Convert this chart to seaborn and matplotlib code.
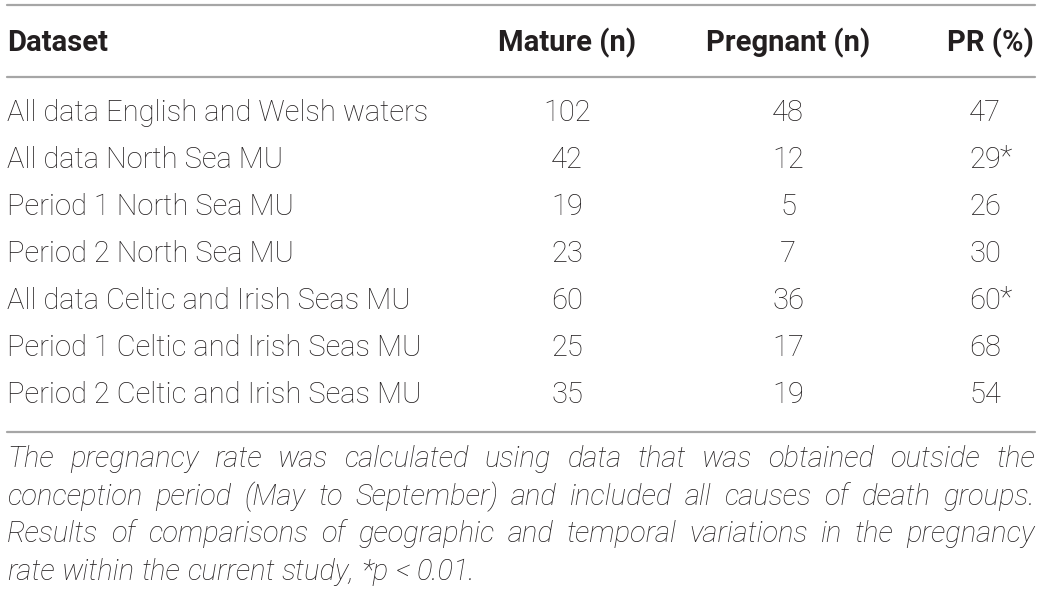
import pandas as pd
import matplotlib.pyplot as plt
import seaborn as sns

datasets = [
    "All data English and Welsh waters",
    "All data North Sea MU",
    "Period 1 North Sea MU",
    "Period 2 North Sea MU",
    "All data Celtic and Irish Seas MU",
    "Period 1 Celtic and Irish Seas MU",
    "Period 2 Celtic and Irish Seas MU",
]
mature = [102, 42, 19, 23, 60, 25, 35]
pregnant = [48, 12, 5, 7, 36, 17, 19]
pr = [47, 29, 26, 30, 60, 68, 54]
signif = ["", "*", "", "", "*", "", ""]
headers = ["Dataset", "Mature (n)", "Pregnant (n)", "PR (%)"]
footnote_lines = [
    "The pregnancy rate was calculated using data that was obtained outside the",
    "conception period (May to September) and included all causes of death groups.",
    "Results of comparisons of geographic and temporal variations in the pregnancy",
    "rate within the current study, *p < 0.01.",
]

df = pd.DataFrame({"dataset": datasets, "mature": mature,
                   "pregnant": pregnant, "pr": pr, "sig": signif})

sns.set_theme(style="white")
plt.rcParams['font.family'] = ['Roboto', 'DejaVu Sans']

fig = plt.figure(figsize=(10.41, 5.92), dpi=100)
ax = fig.add_axes([0, 0, 1, 1])
ax.set_xlim(0, 1041)
ax.set_ylim(592, 0)
ax.axis("off")

rule = dict(color="#a6a6a6", linewidth=1.6)
for y in (5, 77, 432):
    ax.plot([7, 1035], [y, y], **rule)

txt = "#231f20"
fs = 21
col_x = [7, 567, 788, 985]
ax.text(col_x[0], 43, headers[0], ha="left", va="center", fontsize=fs,
        fontweight="bold", color=txt)
for x, h in zip(col_x[1:], headers[1:]):
    ax.text(x + (5 if h == "PR (%)" else 0), 43, h, ha="center", va="center",
            fontsize=fs, fontweight="bold", color=txt)

row_y0, row_dy = 113, 47
for i, r in df.iterrows():
    y = row_y0 + i * row_dy
    ax.text(col_x[0], y, r["dataset"], ha="left", va="center", fontsize=fs,
            fontweight="light", color=txt)
    ax.text(col_x[1], y, str(r["mature"]), ha="center", va="center",
            fontsize=fs, fontweight="light", color=txt)
    ax.text(col_x[2], y, str(r["pregnant"]), ha="center", va="center",
            fontsize=fs, fontweight="light", color=txt)
    ax.text(col_x[3], y, str(r["pr"]), ha="center", va="center",
            fontsize=fs, fontweight="light", color=txt)
    if r["sig"]:
        ax.text(col_x[3] + 15, y - 3, r["sig"], ha="left", va="center",
                fontsize=fs, fontweight="light", color=txt)

# justified footnote: spread words over the table width
fig.canvas.draw()
renderer = fig.canvas.get_renderer()
inv = ax.transData.inverted()
fn_style = dict(fontsize=fs, style="italic", fontweight="light", color=txt,
                va="center", ha="left")
left, right = 7, 1035
for k, line in enumerate(footnote_lines):
    y = 459 + k * 37.7
    words = line.split(" ")
    items = [ax.text(0, y, w, **fn_style) for w in words]
    widths = []
    for t in items:
        bb = t.get_window_extent(renderer)
        x0 = inv.transform((bb.x0, 0))[0]
        x1 = inv.transform((bb.x1, 0))[0]
        widths.append(x1 - x0)
    if k < len(footnote_lines) - 1:
        gap = (right - left - sum(widths)) / (len(words) - 1)
    else:
        sp = ax.text(0, y, "a a", **fn_style)
        sa = ax.text(0, y, "aa", **fn_style)
        b1, b2 = sp.get_window_extent(renderer), sa.get_window_extent(renderer)
        gap = (b1.width - b2.width) * 1041 / fig.bbox.width
        sp.remove()
        sa.remove()
    x = left
    for t, w in zip(items, widths):
        t.set_x(x)
        x += w + gap

fig.savefig("out.png", dpi=100)
